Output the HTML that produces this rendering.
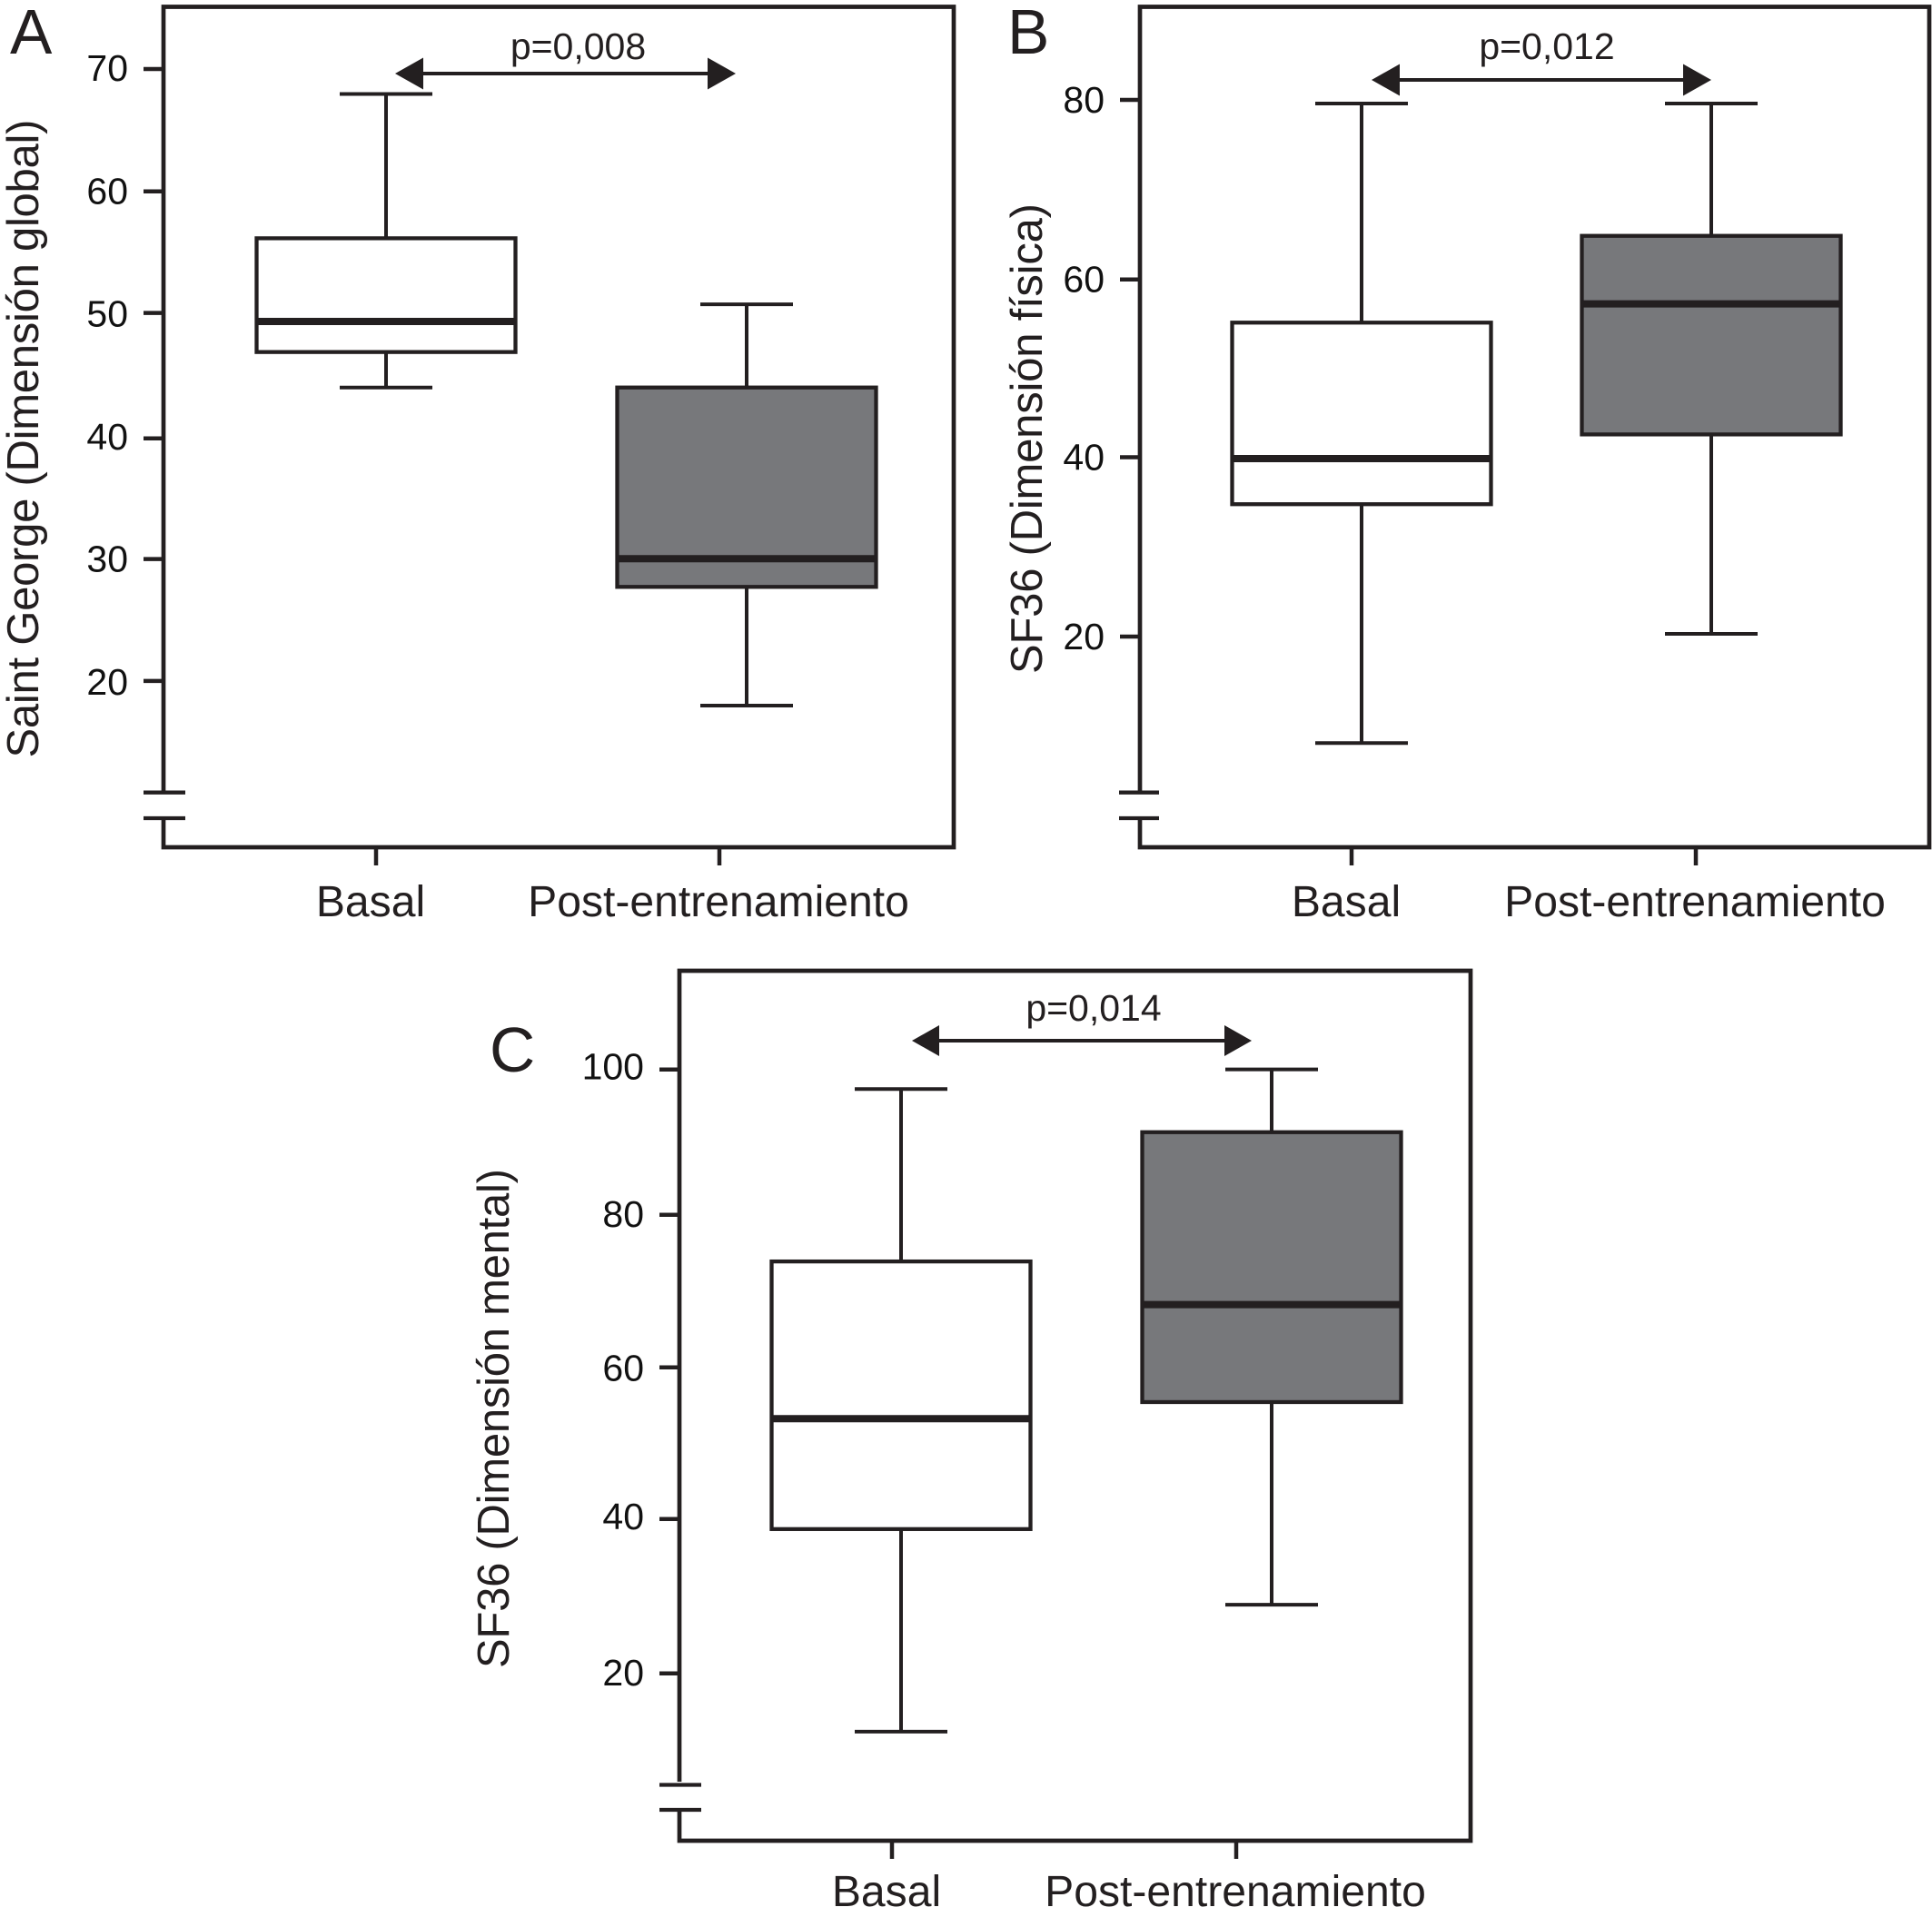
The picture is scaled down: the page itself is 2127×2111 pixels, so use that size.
<!DOCTYPE html>
<html lang="es">
<head>
<meta charset="utf-8">
<title>Boxplots</title>
<style>
html,body{margin:0;padding:0;background:#fff;width:2127px;height:2111px;overflow:hidden}
svg{display:block}
text{font-family:"Liberation Sans",Arial,sans-serif;fill:#231f20}
.tick{font-size:41px;fill:#111}
.cat{font-size:48.1px}
.ytitle{font-size:49px}
.pv{font-size:41px}
.letter{font-size:69.5px}
</style>
</head>
<body>
<svg id="figure" xmlns="http://www.w3.org/2000/svg" width="2127" height="2111" viewBox="0 0 2127 2111">
  <rect x="0" y="0" width="2127" height="2111" fill="#fff"/>

  <g id="panel-a">
    <path d="M180,873 V7.5 H1050 V933 H180 V901" fill="none" stroke="#231f20" stroke-width="4.7"/>
    <line x1="158" x2="204" y1="872.7" y2="872.7" stroke="#231f20" stroke-width="4.3"/>
    <line x1="158" x2="204" y1="901" y2="901" stroke="#231f20" stroke-width="4.3"/>
    <text class="letter" x="11" y="59">A</text>
    <text class="ytitle" transform="translate(42,483) rotate(-90)" text-anchor="middle" textLength="703">Saint George (Dimensión global)</text>
    <text class="pv" x="636.5" y="65" text-anchor="middle">p=0,008</text>
    <g>
      <line x1="455" x2="790" y1="81" y2="81" stroke="#231f20" stroke-width="4"/>
      <polygon points="435,81 466,63.5 466,98.5" fill="#231f20"/>
      <polygon points="810,81 779,63.5 779,98.5" fill="#231f20"/>
    </g>
    <g id="marks-a"></g>
  </g>

  <g id="panel-b">
    <path d="M1255,873 V7.5 H2124 V933 H1255 V901" fill="none" stroke="#231f20" stroke-width="4.7"/>
    <line x1="1232" x2="1276" y1="872.7" y2="872.7" stroke="#231f20" stroke-width="4.3"/>
    <line x1="1232" x2="1276" y1="901" y2="901" stroke="#231f20" stroke-width="4.3"/>
    <text class="letter" x="1109" y="59">B</text>
    <text class="ytitle" transform="translate(1147,483) rotate(-90)" text-anchor="middle" textLength="518">SF36 (Dimensión física)</text>
    <text class="pv" x="1703" y="65" text-anchor="middle">p=0,012</text>
    <g>
      <line x1="1530" x2="1864" y1="88" y2="88" stroke="#231f20" stroke-width="4"/>
      <polygon points="1510,88 1541,70.5 1541,105.5" fill="#231f20"/>
      <polygon points="1884,88 1853,70.5 1853,105.5" fill="#231f20"/>
    </g>
    <g id="marks-b"></g>
  </g>

  <g id="panel-c">
    <path d="M748,1962 V1069 H1619 V2027 H748 V1993" fill="none" stroke="#231f20" stroke-width="4.7"/>
    <line x1="726" x2="772" y1="1965.5" y2="1965.5" stroke="#231f20" stroke-width="4.3"/>
    <line x1="726" x2="772" y1="1993" y2="1993" stroke="#231f20" stroke-width="4.3"/>
    <text class="letter" x="539" y="1180">C</text>
    <text class="ytitle" transform="translate(560,1562) rotate(-90)" text-anchor="middle" textLength="550">SF36 (Dimensión mental)</text>
    <text class="pv" x="1204" y="1124" text-anchor="middle">p=0,014</text>
    <g>
      <line x1="1024" x2="1358" y1="1146" y2="1146" stroke="#231f20" stroke-width="4"/>
      <polygon points="1004,1146 1034,1129 1034,1163" fill="#231f20"/>
      <polygon points="1378,1146 1348,1129 1348,1163" fill="#231f20"/>
    </g>
    <g id="marks-c"></g>
  </g>
</svg>

<script>
// Chart data: [low whisker, Q1, median, Q3, high whisker]
const categories = ['Basal', 'Post-entrenamiento'];
const ticksA = [20, 30, 40, 50, 60, 70];
const ticksB = [20, 40, 60, 80];
const ticksC = [20, 40, 60, 80, 100];
const basalA = [44, 46.9, 49.4, 56.2, 68];
const postA = [18, 27.7, 30, 44, 50.8];
const basalB = [8.1, 34.8, 39.9, 55.1, 79.6];
const postB = [20.3, 42.6, 57.2, 64.8, 79.6];
const basalC = [12.2, 39, 53.6, 74.4, 97.2];
const postC = [29, 55.8, 68.7, 91.5, 99.8];

const NS = 'http://www.w3.org/2000/svg';
const INK = '#231f20';
const GREY = '#77787b';

function yScaleA(v) { return 750 - (v - 20) * 13.47; }
function yScaleB(v) { return 701 - (v - 20) * 9.85; }
function yScaleC(v) { return 1842 - (v - 20) * 8.325; }
function boxXA(i) { return 425 + i * 397; }
function boxXB(i) { return 1499 + i * 385; }
function boxXC(i) { return 992 + i * 408; }
function tickXA(i) { return 414 + i * 378; }
function tickXB(i) { return 1488 + i * 379; }
function tickXC(i) { return 982 + i * 379; }

function svgNode(tag, attrs, parent) {
  const el = document.createElementNS(NS, tag);
  Object.keys(attrs).forEach(function (k) { el.setAttribute(k, attrs[k]); });
  parent.appendChild(el);
  return el;
}

function drawPanel(id, y, boxX, tickX, ticks, groups, axis) {
  const root = document.getElementById('marks-' + id);

  ticks.forEach(function (t, n) {
    const ty = y(t) + axis.tickNudge[n];
    const mark = svgNode('line', { x1: axis.left - 22, x2: axis.left, y1: ty, y2: ty, stroke: INK, 'stroke-width': 4.5 }, root);
    
    
    const label = svgNode('text', { x: axis.left - 39, y: ty + axis.labelDrop[n], 'text-anchor': 'end', 'class': 'tick' }, root);
    label.textContent = String(t);
    
    
  });

  categories.forEach(function (c, i) {
    const mark = svgNode('line', { x1: tickX(i), x2: tickX(i), y1: axis.bottom, y2: axis.bottom + 20, stroke: INK, 'stroke-width': 4.5 }, root);
    
    
    const label = svgNode('text', { x: tickX(i) - (i === 0 ? 6 : 1), y: axis.bottom + axis.catDrop, 'text-anchor': 'middle', 'class': 'cat' }, root);
    label.textContent = c;
    
    
  });

  groups.forEach(function (d, i) {
    const cx = boxX(i);
    const half = 142.5;
    const capHalf = 51;
    const g = svgNode('g', {}, root);
    
    

    const upper = svgNode('line', { x1: cx, x2: cx, y1: y(d[4]), y2: y(d[3]), stroke: INK, 'stroke-width': 4 }, g);
    
    

    const lower = svgNode('line', { x1: cx, x2: cx, y1: y(d[1]), y2: y(d[0]), stroke: INK, 'stroke-width': 4 }, g);
    
    

    const capHi = svgNode('line', { x1: cx - capHalf, x2: cx + capHalf, y1: y(d[4]), y2: y(d[4]), stroke: INK, 'stroke-width': 4 }, g);
    
    

    const capLo = svgNode('line', { x1: cx - capHalf, x2: cx + capHalf, y1: y(d[0]), y2: y(d[0]), stroke: INK, 'stroke-width': 4 }, g);
    
    

    const box = svgNode('rect', { x: cx - half, y: y(d[3]), width: half * 2, height: y(d[1]) - y(d[3]), fill: i === 0 ? '#ffffff' : GREY, stroke: INK, 'stroke-width': 4.3 }, g);
    
    

    const med = svgNode('line', { x1: cx - half, x2: cx + half, y1: y(d[2]), y2: y(d[2]), stroke: INK, 'stroke-width': 8 }, g);
    
    
  });
}

drawPanel('a', yScaleA, boxXA, tickXA, ticksA, [basalA, postA], {
  left: 180, bottom: 933, catDrop: 76,
  tickNudge: [-0.1, 0.3, 2.2, -1.3, -0.5, -0.5],
  labelDrop: [15, 13.7, 12.2, 15, 13.7, 13]
});
drawPanel('b', yScaleB, boxXB, tickXB, ticksB, [basalB, postB], {
  left: 1255, bottom: 933, catDrop: 76,
  tickNudge: [0, -0.5, 0.7, 0],
  labelDrop: [14, 14, 14, 14]
});
drawPanel('c', yScaleC, boxXC, tickXC, ticksC, [basalC, postC], {
  left: 748, bottom: 2027, catDrop: 72,
  tickNudge: [0.7, -2.8, -3.3, -4.8, 1.7],
  labelDrop: [13.3, 11.3, 15, 13.3, 10.6]
});
</script>
</body>
</html>
